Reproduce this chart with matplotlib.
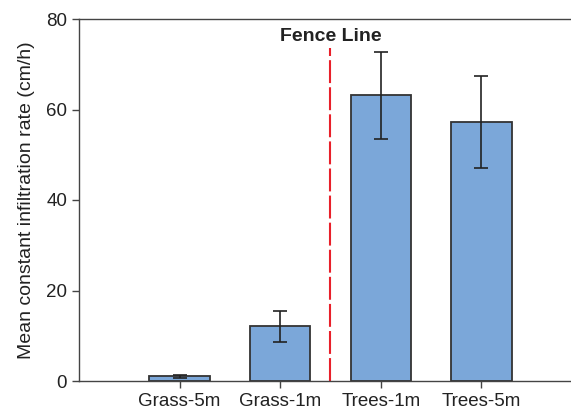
import matplotlib
matplotlib.use("Agg")
import matplotlib.pyplot as plt

# Data
sites = ["Grass-5m", "Grass-1m", "Trees-1m", "Trees-5m"]
rates = [1.0, 12.1, 63.1, 57.2]
errors = [0.3, 3.4, 9.7, 10.2]
y_ticks = [0, 20, 40, 60, 80]
fence_pos = 2.5

plt.rcParams["font.family"] = ["Liberation Sans", "DejaVu Sans"]

fig = plt.figure(figsize=(5.71, 4.12), dpi=100)
# right edge sits outside the picture, as in the reference
ax = fig.add_axes([79 / 571, 31 / 412, 503 / 571, 362 / 412])

x_pos = [i + 1 for i in range(len(sites))]
ax.bar(x_pos, rates, 0.6, color="#7BA7D9", edgecolor="#333333", linewidth=1.3,
       yerr=errors, error_kw=dict(ecolor="#222222", elinewidth=1.2, capsize=5, capthick=1.2))

ax.plot([fence_pos, fence_pos], [0, 73.7], color="#E8202A", linestyle=(0, (11, 2)), linewidth=1.5)
ax.text(fence_pos, 76.2, "Fence Line", ha="center", va="center", fontsize=14,
        fontweight="bold", color="#222222")

ax.set_xlim(0, 5)
ax.set_ylim(0, 80)
ax.set_xticks(x_pos)
ax.set_xticklabels(sites, fontsize=13.5, color="#222222")
ax.set_yticks(y_ticks)
ax.set_yticklabels([str(t) for t in y_ticks], fontsize=13.5, color="#222222")
ax.set_ylabel("Mean constant infiltration rate (cm/h)", fontsize=14, color="#222222", labelpad=8)
ax.tick_params(direction="out", length=5, width=1, color="#444444")

for side in ["left", "bottom", "top"]:
    ax.spines[side].set_color("#444444")
    ax.spines[side].set_linewidth(1.0)
ax.spines["right"].set_visible(False)

fig.savefig("out.png", dpi=100)
